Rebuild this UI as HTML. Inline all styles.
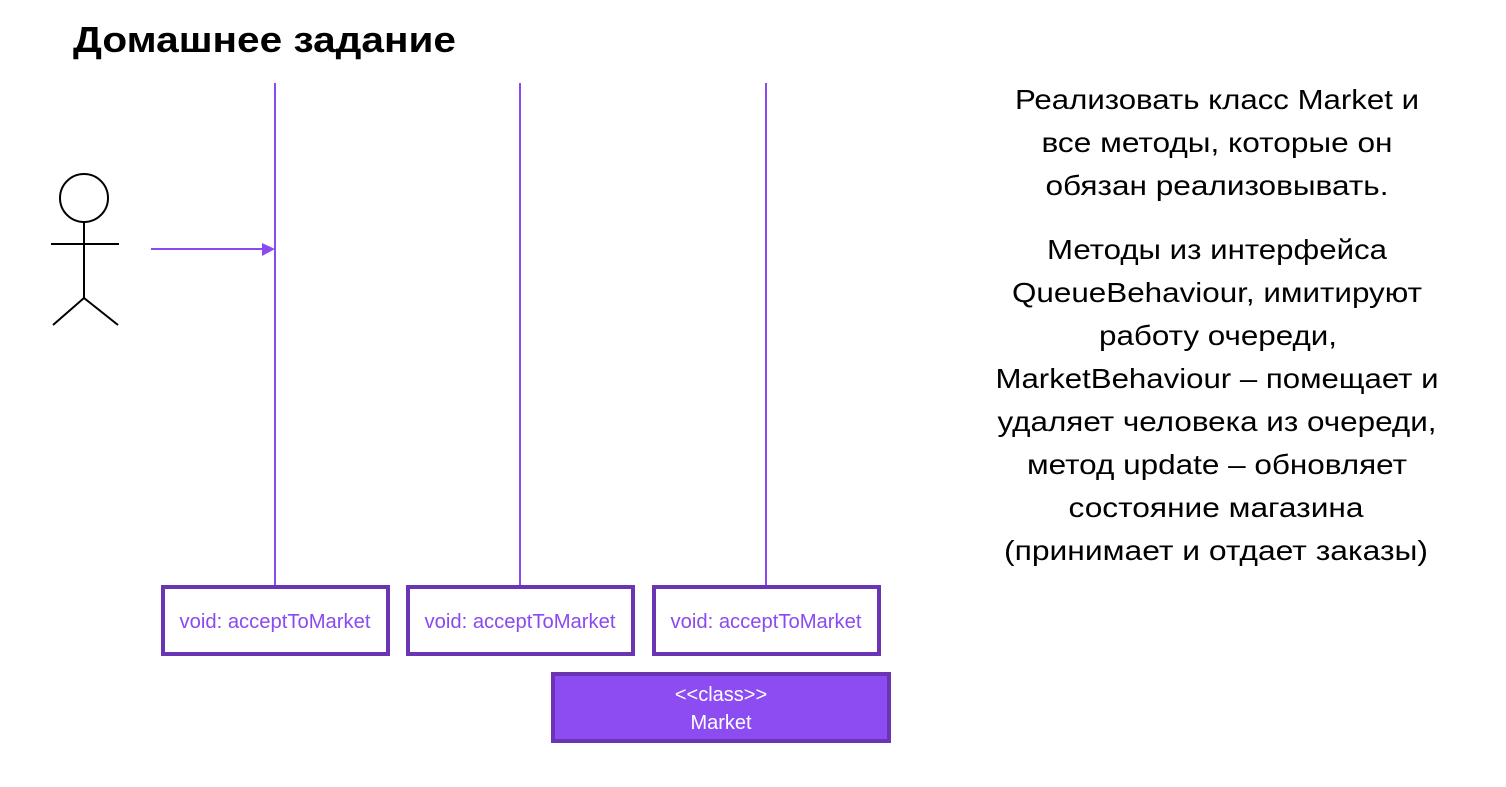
<!DOCTYPE html>
<html><head><meta charset="utf-8"><style>
html,body{margin:0;padding:0;background:#fff;}
svg{display:block;}
</style></head><body>
<svg width="1506" height="787" viewBox="0 0 1506 787" xmlns="http://www.w3.org/2000/svg">
<rect width="1506" height="787" fill="#fff"/>
<text x="73" y="52" font-family="Liberation Sans, DejaVu Sans, sans-serif" font-weight="bold" font-size="36" textLength="383" lengthAdjust="spacingAndGlyphs" fill="#000">Домашнее задание</text>

<g stroke="#8a4af0" stroke-width="2">
<line x1="275" y1="83" x2="275" y2="586"/>
<line x1="520" y1="83" x2="520" y2="586"/>
<line x1="766" y1="83" x2="766" y2="586"/>
<line x1="151" y1="249" x2="264" y2="249"/>
</g>
<polygon points="262,243 275,249 262,256" fill="#8a4af0"/>

<g stroke="#000" stroke-width="2" fill="none">
<circle cx="84" cy="198" r="24"/>
<line x1="84" y1="222" x2="84" y2="298"/>
<line x1="51" y1="244" x2="119" y2="244"/>
<line x1="84" y1="298" x2="53" y2="325"/>
<line x1="84" y1="298" x2="118" y2="325"/>
</g>

<g fill="#fff" stroke="#6935b3" stroke-width="4">
<rect x="163" y="587" width="225" height="67"/>
<rect x="408" y="587" width="225" height="67"/>
<rect x="654" y="587" width="225" height="67"/>
<rect x="553" y="674" width="336" height="67" fill="#8c4cf2"/>
</g>
<g font-family="Liberation Sans, DejaVu Sans, sans-serif" font-size="20" fill="#8a4af0" text-anchor="middle">
<text x="275" y="628" textLength="191" lengthAdjust="spacingAndGlyphs">void: acceptToMarket</text>
<text x="520" y="628" textLength="191" lengthAdjust="spacingAndGlyphs">void: acceptToMarket</text>
<text x="766" y="628" textLength="191" lengthAdjust="spacingAndGlyphs">void: acceptToMarket</text>
</g>
<g font-family="Liberation Sans, DejaVu Sans, sans-serif" font-size="20" fill="#fff" text-anchor="middle">
<text x="721" y="701">&lt;&lt;class&gt;&gt;</text>
<text x="721" y="729">Market</text>
</g>

<g font-family="Liberation Sans, DejaVu Sans, sans-serif" font-size="28" fill="#000" text-anchor="middle">
<text x="1217" y="109" textLength="404" lengthAdjust="spacingAndGlyphs">Реализовать класс Market и</text>
<text x="1217" y="152" textLength="351" lengthAdjust="spacingAndGlyphs">все методы, которые он</text>
<text x="1217" y="195" textLength="343" lengthAdjust="spacingAndGlyphs">обязан реализовывать.</text>
<text x="1217" y="259" textLength="340" lengthAdjust="spacingAndGlyphs">Методы из интерфейса</text>
<text x="1217" y="302" textLength="410" lengthAdjust="spacingAndGlyphs">QueueBehaviour, имитируют</text>
<text x="1218" y="345" textLength="238" lengthAdjust="spacingAndGlyphs">работу очереди,</text>
<text x="1217" y="388" textLength="443" lengthAdjust="spacingAndGlyphs">MarketBehaviour – помещает и</text>
<text x="1217" y="431" textLength="439" lengthAdjust="spacingAndGlyphs">удаляет человека из очереди,</text>
<text x="1217" y="474" textLength="380" lengthAdjust="spacingAndGlyphs">метод update – обновляет</text>
<text x="1216" y="517" textLength="295" lengthAdjust="spacingAndGlyphs">состояние магазина</text>
<text x="1216" y="560" textLength="424" lengthAdjust="spacingAndGlyphs">(принимает и отдает заказы)</text>
</g>
</svg>
</body></html>
